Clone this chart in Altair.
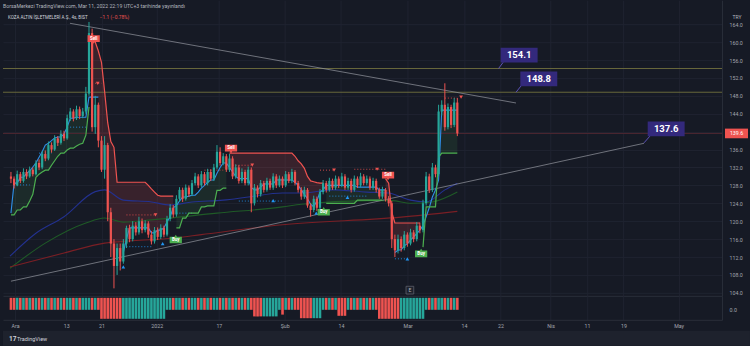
import json
import altair as alt
import pandas as pd

# ---------------- data ----------------
opens = [130.0,129.5,128.0,130.5,129.0,131.0,130.0,131.5,130.5,133.0,
         132.0,135.0,134.0,137.0,136.0,138.5,137.5,139.5,138.5,143.0,
         144.5,143.0,145.0,143.5,144.5,148.5,162.0,141.0,146.0,138.0,
         131.5,137.0,122.0,115.0,110.0,114.0,111.0,115.0,118.5,116.0,
         119.0,117.5,120.0,118.0,119.5,117.0,115.5,118.0,116.5,118.5,
         117.0,120.5,123.0,121.5,125.0,127.0,125.0,127.5,126.0,128.5,
         130.0,128.0,130.5,128.5,131.0,129.5,132.0,135.5,133.0,134.5,
         131.5,134.0,130.0,132.0,129.0,131.0,128.5,131.5,124.0,127.5,
         126.0,128.5,127.0,129.0,127.5,130.0,128.0,129.5,128.0,130.5,
         129.0,131.0,128.5,127.0,125.5,127.0,123.5,122.5,125.0,123.0,
         126.5,128.5,127.0,129.0,127.5,129.5,128.0,130.0,127.5,129.0,
         127.0,129.5,128.0,130.0,128.5,129.5,127.5,129.0,127.0,125.5,
         127.0,125.0,124.0,116.0,113.5,116.0,114.0,117.0,115.0,117.5,
         116.0,119.0,118.0,124.0,130.0,127.0,132.0,130.5,144.5,146.0,
         141.0,145.5,141.5,146.5]
closes = [129.5,128.0,130.5,129.0,131.0,130.0,131.5,130.5,133.0,132.0,
          135.0,134.0,137.0,136.0,138.5,137.5,139.5,138.5,143.0,144.5,
          143.0,145.0,143.5,144.5,148.5,162.0,141.0,146.0,138.0,131.5,
          137.0,122.0,115.0,110.0,114.0,111.0,115.0,118.5,116.0,119.0,
          117.5,120.0,118.0,119.5,117.0,115.5,118.0,116.5,118.5,117.0,
          120.5,123.0,121.5,125.0,127.0,125.0,127.5,126.0,128.5,130.0,
          128.0,130.5,128.5,131.0,129.5,132.0,135.5,133.0,134.5,131.5,
          134.0,130.0,132.0,129.0,131.0,128.5,131.5,124.0,127.5,126.0,
          128.5,127.0,129.0,127.5,130.0,128.0,129.5,128.0,130.5,129.0,
          131.0,128.5,127.0,125.5,127.0,123.5,122.5,125.0,123.0,126.5,
          128.5,127.0,129.0,127.5,129.5,128.0,130.0,127.5,129.0,127.0,
          129.5,128.0,130.0,128.5,129.5,127.5,129.0,127.0,125.5,127.0,
          125.0,124.0,116.0,113.5,116.0,114.0,117.0,115.0,117.5,116.0,
          119.0,118.0,124.0,130.0,127.0,132.0,130.5,144.5,146.0,141.0,
          145.5,141.5,146.5,139.6]
highs = [131.0,130.0,131.3,131.0,131.8,131.6,132.2,132.0,133.6,133.8,
         135.7,135.8,137.8,137.6,139.2,139.0,140.3,140.2,143.8,145.3,
         145.0,145.8,145.6,145.3,150.0,164.5,163.0,148.0,146.5,139.0,
         139.0,137.5,123.0,116.0,115.0,115.0,116.0,119.0,119.2,120.0,
         119.8,121.0,120.6,120.2,120.0,117.8,118.7,118.6,119.3,119.0,
         121.2,123.8,123.6,125.8,127.6,127.5,128.2,128.0,129.2,130.8,
         130.5,131.2,131.0,131.7,131.6,132.8,137.0,136.5,135.2,135.0,
         135.0,134.5,132.7,132.5,131.8,131.5,132.2,132.0,128.3,128.0,
         129.2,129.0,129.7,129.5,130.7,130.5,130.2,130.0,131.2,131.0,
         131.7,131.4,129.0,127.6,127.7,127.4,124.0,125.7,125.5,127.2,
         129.2,129.0,129.7,129.5,130.2,130.0,130.8,130.5,129.7,129.5,
         130.2,130.0,130.8,130.5,130.2,130.0,129.7,129.5,127.5,127.7,
         127.4,125.6,124.5,117.0,117.0,116.6,117.8,117.5,118.3,118.0,
         119.8,119.7,124.8,131.0,130.6,133.0,132.6,146.0,147.0,150.8,
         146.3,146.0,147.5,147.5]
lows = [128.5,127.3,127.8,128.5,128.6,129.4,129.7,130.0,130.2,131.4,
        131.6,133.4,133.6,135.3,135.7,136.8,137.1,137.9,138.2,142.4,
        142.3,142.6,142.8,143.0,144.0,148.0,140.0,139.5,136.5,131.0,
        129.5,120.0,112.0,105.0,108.0,109.0,110.5,114.0,115.3,115.5,
        116.8,117.0,117.3,117.5,116.3,114.8,115.0,115.8,116.0,116.4,
        116.6,120.0,120.8,121.0,124.4,124.3,124.6,125.4,125.6,128.0,
        127.4,127.6,128.0,128.0,129.0,129.0,131.6,132.4,132.5,131.0,
        131.0,129.4,129.5,128.4,128.5,128.0,128.0,122.0,123.5,125.3,
        125.5,126.4,126.6,127.0,127.0,127.4,127.6,127.4,127.6,128.5,
        128.5,128.0,126.4,124.8,125.0,123.0,121.0,122.0,122.3,122.6,
        126.0,126.4,126.6,127.0,127.0,127.4,127.6,127.0,127.0,126.4,
        126.6,127.4,127.6,128.0,128.0,127.0,127.0,126.4,125.0,125.0,
        124.4,123.3,114.0,112.0,112.8,113.2,113.5,114.3,114.6,115.3,
        115.5,117.3,117.5,123.5,126.3,126.5,129.8,130.0,143.6,140.2,
        140.5,140.8,141.0,139.0]

# trailing bands (sell = red upper band, buy = green lower band)
sell_starts = [26, 70, 120]
sell_vals = [
    [161.5,160.0,158.0,155.5,149.0,142.0,137.8,136.5,128.7,128.7,128.7,128.7,128.7,
     128.7,128.7,128.7,128.7,128.7,128.0,127.2,126.5,125.8,125.6,125.6,125.6,125.6,125.6],
    [135.2,135.2,135.2,135.2,135.2,135.2,135.2,135.2,135.2,135.2,135.2,135.2,135.2,135.2,
     135.2,135.2,135.2,135.2,135.2,135.2,135.2,134.5,133.5,132.8,131.8,130.0,129.0,128.8,
     128.6,128.5,128.5],
    [129.5,128.5,122.0,119.6,119.6,119.6,119.6,119.6,119.6,119.6,119.6,119.6],
]
buy_starts = [0, 53, 101, 132]
buy_vals = [
    [121.4,121.4,122.5,122.5,123.2,123.2,124.5,126.0,129.8,130.5,131.0,131.4,131.4,
     132.5,133.5,134.5,135.2,135.2,135.9,136.3,136.3,136.8,137.2,137.4,139.2,145.5],
    [118.5,118.5,120.7,120.7,121.8,121.8,121.8,121.8,123.2,123.2,123.4,123.4,123.4,
     126.9,126.9,127.4,127.4],
    [124.0,124.0,124.0,124.0,124.0,124.0,124.0,124.0,124.0,124.0,
     124.7,124.7,124.7,124.7,124.7,124.7,124.7,124.7,124.7],
    [114.2,123.2,123.2,123.2,123.2,134.3,135.2,135.2,135.2,135.2,135.2,135.2],
]
# light-blue trailing line
blue_starts = [0, 36, 123]
blue_vals = [
    [121.8,128.5,128.5,129.8,129.8,130.7,131.2,132.1,133.0,134.3,135.5,137.0,137.4,138.0,
     138.6,138.8,138.8,139.5,141.0,143.0,143.0,143.2,143.2,143.2,143.2,147.7,147.7,147.7,147.7],
    [113.0,116.0,118.5,118.5,118.5,118.5,118.5,118.5,118.5,117.4,117.4,118.0,118.0,118.5,
     119.8,121.0,123.0,123.5,124.5,125.4,125.4,125.6,125.8,125.8,126.5,127.4,128.0,128.7,
     129.2,129.2,130.7,132.0,133.0,133.0,132.0,131.0,130.0,129.5,129.5,129.5,129.5,127.5,
     127.0,127.0,127.6,128.3,128.3,128.3,128.3,129.2,129.2,129.2,129.2,129.2,129.2,128.7,
     128.0,127.0,126.0,125.0,123.8,123.2,124.5,126.5,127.0,128.0,128.0,128.0,128.0,128.0,
     128.0,128.0,128.0,128.0,128.0,127.6,127.6,127.6,127.6,127.6,127.6,127.6,127.0,127.0,127.0],
    [113.0,113.5,113.6,114.5,115.0,115.8,116.5,117.2,118.0,119.0,121.0,123.0,125.4,127.0,
     129.2,144.8,144.8,144.8,144.8,144.8,144.8],
]
# slow moving averages (bar index, price)
ma_navy_i = [-0.3,8,17,27,30,36,45,51,58,68,76,87,93,103,114,121,125,128,133,139,143]
ma_navy_v = [112.2,117.3,121.0,126.6,127.0,124.7,124.3,123.6,124.3,124.7,125.4,126.3,126.3,
             127.0,126.5,126.3,125.4,124.7,124.3,127.0,128.5]
ma_green_i = [-0.3,11,24,30,36,45,66,87,93,114,122,128,135,143]
ma_green_v = [109.5,115.1,119.6,120.7,119.8,120.3,121.8,123.2,123.8,124.6,124.6,124.0,124.3,126.5]
ma_red_i = [-0.3,17,30,53,61,87,125,143]
ma_red_v = [109.8,112.9,115.1,116.3,117.0,119.2,120.9,122.2]

# drawings
trend_i0 = [18.9, 0.0]
trend_p0 = [164.2, 106.6]
trend_i1 = [161.8, 202.8]
trend_p1 = [146.4, 137.4]
levels = [154.1, 148.8]
last_price = 139.6
box_i = [162.8, 169.1, 209.9]
box_p = [157.1, 151.8, 140.6]
box_t = ["154.1", "148.8", "137.6"]
ptr_i0 = [156.2, 161.8, 202.8]
ptr_p0 = [154.1, 148.8, 137.5]
ptr_i1 = [157.7, 163.4, 204.7]
ptr_p1 = [155.5, 150.2, 139.0]

sig_i = [26.5, 52.8, 70.5, 100.2, 120.8, 131.4]
sig_p = [160.8, 115.8, 136.3, 122.0, 130.3, 112.7]
sig_t = ["Sell", "Buy", "Sell", "Buy", "Sell", "Buy"]

tri_up_i = [36.0, 48.6, 84.0, 97.8, 107.8, 127.0]
tri_up_p = [109.8, 115.0, 124.6, 121.8, 125.3, 111.6]
tri_dn_i = [27.8, 46.3, 77.3, 103.5, 117.3, 144.2]
tri_dn_p = [150.8, 121.4, 132.5, 131.4, 131.6, 147.7]

dot_i0 = [1, 9, 18, 36, 53, 73, 102, 123, 139, 27, 37, 62, 71, 99, 110, 139]
dot_i1 = [6, 13, 24, 45, 58, 87, 114, 127, 143, 29, 46, 68, 77, 103, 120, 143]
dot_p = [128.1, 135.2, 141.0, 114.3, 121.8, 124.5, 125.6, 111.6, 141.9,
         150.8, 121.4, 131.4, 132.5, 131.4, 131.6, 147.5]
dot_c = ["b", "b", "b", "b", "b", "b", "b", "b", "b", "r", "r", "r", "r", "r", "r", "r"]

# lower pane histogram: blocks of deep bars
blk_start = [29, 36, 78, 81, 87, 93, 97, 105, 118, 125]
blk_end = [35, 49, 80, 85, 87, 96, 99, 107, 124, 132]
blk_val = [-0.75, -0.75, -0.55, -0.55, -0.4, -0.7, -0.7, -0.5, -0.75, -0.75]
blk_dir = ["down", "up", "down", "up", "down", "down", "up", "down", "down", "up"]

tick_pos = [1.3, 17.7, 29.0, 46.7, 66.6, 87.7, 105.7, 127.1, 145.1, 156.8, 172.9, 184.5, 196.2, 213.9]
tick_lab = ["Ara", "13", "21", "2022", "17", "Şub", "14", "Mar", "14", "22", "Nis", "11", "19", "May"]
price_ticks = [104, 108, 112, 116, 120, 124, 128, 132, 136, 140, 144, 148, 152, 156, 160, 164]

# ---------------- styling ----------------
BG = "#161a25"
GRID = "#1f2330"
LINE = "#2a2e39"
TXT = "#a3a6af"
UP, DOWN = "#26a69a", "#ef5350"
FONT = "Roboto"

n = len(closes)
bars = pd.DataFrame({"i": list(range(n)), "open": opens, "close": closes,
                     "high": highs, "low": lows})
bars["dir"] = ["up" if c >= o else "down" for o, c in zip(opens, closes)]

blue_map = {}
rows_blue = []
for s_id, (s, vals) in enumerate(zip(blue_starts, blue_vals)):
    for k, v in enumerate(vals):
        blue_map[s + k] = v
        rows_blue.append({"i": s + k, "v": v, "seg": s_id})
blue_df = pd.DataFrame(rows_blue)


def band_df(starts, vals, tag):
    rows = []
    for s_id, (s, vv) in enumerate(zip(starts, vals)):
        for k, v in enumerate(vv):
            i = s + k
            rows.append({"i": i, "band": v, "ref": blue_map.get(i, closes[i]), "seg": f"{tag}{s_id}"})
    return pd.DataFrame(rows)


red_df = band_df(sell_starts, sell_vals, "r")
green_df = band_df(buy_starts, buy_vals, "g")

xs = alt.Scale(domain=[-0.95, 226.2], nice=False, zero=False)
ys = alt.Scale(domain=[103.33, 169.35], nice=False, zero=False)
x_axis = alt.Axis(values=tick_pos, labels=False, ticks=False, domain=True, domainColor=LINE,
                  grid=True, gridColor=GRID, title=None)
y_axis = alt.Axis(orient="right", values=price_ticks, format=".1f", labelFontSize=5.3,
                  labelColor=TXT, labelFont=FONT, labelPadding=7, ticks=False, tickSize=0,
                  domain=True, domainColor=LINE, grid=True, gridColor=GRID, title=None,
                  labelAlign="left")


def X(f):
    return alt.X(f, type="quantitative", scale=xs, axis=x_axis)


def X2(f):
    return alt.X2(f)


def Y(f):
    return alt.Y(f, type="quantitative", scale=ys, axis=y_axis)


layers = []

# fills
layers.append(alt.Chart(red_df).mark_area(color=DOWN, opacity=0.16, interpolate="linear")
              .encode(x=X("i"), y=Y("band"), y2=alt.Y2("ref"), detail="seg:N"))
layers.append(alt.Chart(green_df).mark_area(color="#4caf50", opacity=0.12, interpolate="linear")
              .encode(x=X("i"), y=Y("band"), y2=alt.Y2("ref"), detail="seg:N"))

# moving averages (fixed colours per layer)
for mi, mv, col in [(ma_navy_i, ma_navy_v, "#23318f"),
                    (ma_green_i, ma_green_v, "#1f5a27"),
                    (ma_red_i, ma_red_v, "#7a1f25")]:
    layers.append(alt.Chart(pd.DataFrame({"i": mi, "v": mv}))
                  .mark_line(strokeWidth=1.1, interpolate="monotone", color=col)
                  .encode(x=X("i"), y=Y("v")))

# horizontal levels and last price line
layers.append(alt.Chart(pd.DataFrame({"p": levels})).mark_rule(color="#67663b", strokeWidth=1)
              .encode(y=Y("p")))
layers.append(alt.Chart(pd.DataFrame({"p": [last_price]})).mark_rule(color="#4e2630", strokeWidth=1)
              .encode(y=Y("p")))

# trend lines
trend_df = pd.DataFrame({"i0": trend_i0, "p0": trend_p0, "i1": trend_i1, "p1": trend_p1})
layers.append(alt.Chart(trend_df).mark_rule(color="#9598a1", strokeWidth=1, opacity=0.7)
              .encode(x=X("i0"), y=Y("p0"), x2=X2("i1"), y2=alt.Y2("p1")))

# dotted support/resistance segments
dot_df = pd.DataFrame({"i0": dot_i0, "i1": dot_i1, "p": dot_p, "c": dot_c})
for code, col in [("b", "#2196f3"), ("r", "#ef5350")]:
    layers.append(alt.Chart(dot_df).transform_filter(f"datum.c == '{code}'")
                  .mark_rule(strokeWidth=1, strokeDash=[1, 2], color=col, opacity=0.85)
                  .encode(x=X("i0"), x2=X2("i1"), y=Y("p")))

# bands and blue line
layers.append(alt.Chart(blue_df).mark_line(color="#2f8fe8", strokeWidth=1.1)
              .encode(x=X("i"), y=Y("v"), detail="seg:N"))
layers.append(alt.Chart(red_df).mark_line(color=DOWN, strokeWidth=1.2)
              .encode(x=X("i"), y=Y("band"), detail="seg:N"))
layers.append(alt.Chart(green_df).mark_line(color="#4caf50", strokeWidth=1.2)
              .encode(x=X("i"), y=Y("band"), detail="seg:N"))

# candles
for d, col in [("up", UP), ("down", DOWN)]:
    layers.append(alt.Chart(bars).transform_filter(f"datum.dir == '{d}'")
                  .mark_rule(strokeWidth=1, color=col)
                  .encode(x=X("i"), y=Y("low"), y2=alt.Y2("high")))
    layers.append(alt.Chart(bars).transform_filter(f"datum.dir == '{d}'")
                  .mark_bar(size=2.2, color=col)
                  .encode(x=X("i"), y=Y("open"), y2=alt.Y2("close")))

# small triangles
layers.append(alt.Chart(pd.DataFrame({"i": tri_up_i, "p": tri_up_p}))
              .mark_point(shape="triangle-up", filled=True, size=14, color="#2196f3", opacity=1)
              .encode(x=X("i"), y=Y("p")))
layers.append(alt.Chart(pd.DataFrame({"i": tri_dn_i, "p": tri_dn_p}))
              .mark_point(shape="triangle-down", filled=True, size=14, color="#ef5350", opacity=1)
              .encode(x=X("i"), y=Y("p")))

# Buy / Sell labels
SELL_SHAPE = "M-1,-0.55L1,-0.55L1,0.55L0.2,0.55L0,0.85L-0.2,0.55L-1,0.55Z"
BUY_SHAPE = "M-1,0.55L1,0.55L1,-0.55L0.2,-0.55L0,-0.85L-0.2,-0.55L-1,-0.55Z"
sig_df = pd.DataFrame({"i": sig_i, "p": sig_p, "t": sig_t})
layers.append(alt.Chart(sig_df).transform_filter("datum.t == 'Sell'")
              .mark_point(shape=SELL_SHAPE, filled=True, size=150, color="#ef5350", opacity=1)
              .encode(x=X("i"), y=Y("p")))
layers.append(alt.Chart(sig_df).transform_filter("datum.t == 'Buy'")
              .mark_point(shape=BUY_SHAPE, filled=True, size=150, color="#4caf50", opacity=1)
              .encode(x=X("i"), y=Y("p")))
layers.append(alt.Chart(sig_df).mark_text(color="white", fontSize=4.5, fontWeight="bold", font=FONT)
              .encode(x=X("i"), y=Y("p"), text="t:N"))

# level callouts
ptr_df = pd.DataFrame({"i0": ptr_i0, "p0": ptr_p0, "i1": ptr_i1, "p1": ptr_p1})
layers.append(alt.Chart(ptr_df).mark_rule(color="#5b50b8", strokeWidth=1)
              .encode(x=X("i0"), y=Y("p0"), x2=X2("i1"), y2=alt.Y2("p1")))
BOX = "M-1,-0.4L1,-0.4L1,0.4L-1,0.4Z"
box_df = pd.DataFrame({"i": box_i, "p": box_p, "t": box_t})
layers.append(alt.Chart(box_df).mark_point(shape=BOX, filled=True, size=1369, color="#33297c", opacity=1)
              .encode(x=X("i"), y=Y("p")))
layers.append(alt.Chart(box_df).mark_text(color="white", fontSize=9.5, fontWeight="bold", font=FONT)
              .encode(x=X("i"), y=Y("p"), text="t:N"))

# last price tag on the axis
PTAG = "M-1,-0.42L1,-0.42L1,0.42L-1,0.42Z"
lp_df = pd.DataFrame({"p": [last_price], "t": ["139.6"]})
layers.append(alt.Chart(lp_df).mark_point(shape=PTAG, filled=True, size=530, color="#ef5350", opacity=1)
              .encode(x=alt.value(734.5), y=Y("p")))
layers.append(alt.Chart(lp_df).mark_text(color="white", fontSize=5.3, font=FONT)
              .encode(x=alt.value(734.5), y=Y("p"), text="t:N"))

# "E" event marker
e_df = pd.DataFrame({"i": [127.8], "p": [104.6], "t": ["E"]})
layers.append(alt.Chart(e_df).mark_point(shape="square", filled=True, size=60, color="#1e222d",
                                         stroke="#5d606b", strokeWidth=0.8, opacity=1)
              .encode(x=X("i"), y=Y("p")))
layers.append(alt.Chart(e_df).mark_text(color="#b2b5be", fontSize=5, font=FONT)
              .encode(x=X("i"), y=Y("p"), text="t:N"))

# header texts
hdr1 = pd.DataFrame({"t": ["BorsaMerkezi TradingView.com, Mar 11, 2022 22:19 UTC+3 tarihinde yayınlandı"]})
layers.append(alt.Chart(hdr1).mark_text(align="left", baseline="middle", fontSize=5.2, color="#b2b5be", font=FONT)
              .encode(x=alt.value(0), y=alt.value(6), text="t:N"))
hdr2 = pd.DataFrame({"t": ["KOZA ALTIN İŞLETMELERİ A.Ş., 4s, BIST"]})
layers.append(alt.Chart(hdr2).mark_text(align="left", baseline="middle", fontSize=4.5, color="#d1d4dc", font=FONT)
              .encode(x=alt.value(5), y=alt.value(18), text="t:N"))
hdr3 = pd.DataFrame({"t": ["−1.1 (−0.78%)"]})
layers.append(alt.Chart(hdr3).mark_text(align="left", baseline="middle", fontSize=4.8, color="#ef5350", font=FONT)
              .encode(x=alt.value(97), y=alt.value(18), text="t:N"))
cur = pd.DataFrame({"t": ["TRY"]})
layers.append(alt.Chart(cur).mark_text(align="center", baseline="middle", fontSize=5, color="#b2b5be", font=FONT)
              .encode(x=alt.value(735), y=alt.value(17), text="t:N"))

main = alt.layer(*layers).properties(width=720, height=296)

# ---------------- lower pane ----------------
hist_val = {i: 0.0 for i in range(n)}
hist_dir = {i: bars["dir"][i] for i in range(n)}
for s, e, v, d in zip(blk_start, blk_end, blk_val, blk_dir):
    for i in range(s, e + 1):
        hist_val[i] = v
        hist_dir[i] = d
hist_df = pd.DataFrame({"i": list(range(n)), "v": [hist_val[i] for i in range(n)],
                        "dir": [hist_dir[i] for i in range(n)]})

lab_expr = f"{json.dumps(tick_lab, ensure_ascii=False)}[indexof({json.dumps(tick_pos)}, datum.value)]"
xl_axis = alt.Axis(values=tick_pos, labelExpr=lab_expr, labelFontSize=5.3, labelColor=TXT, labelFont=FONT,
                   labelPadding=4, ticks=False, tickSize=0, domain=True, domainColor=LINE, grid=True,
                   gridColor=GRID, title=None, labelOverlap=False, labelFlush=False)
yl_axis = alt.Axis(orient="right", values=[0], format=".1f", labelFontSize=5.3, labelColor=TXT, labelFont=FONT,
                   labelPadding=7, ticks=False, tickSize=0, domain=True, domainColor=LINE, grid=False,
                   title=None, labelAlign="left")
yl_scale = alt.Scale(domain=[-0.8333, 1.1667], nice=False, zero=False)

strip = alt.Chart(pd.DataFrame({"t": ["TradingView"]})).mark_rect(color="#1e222d").encode(
    x=alt.value(0), x2=alt.value(748), y=alt.value(35), y2=alt.value(50))
low_layers = [strip]
for d, col in [("up", UP), ("down", DOWN)]:
    low_layers.append(alt.Chart(hist_df).transform_filter(f"datum.dir == '{d}'")
                      .mark_bar(size=2.6, color=col).encode(
        x=alt.X("i:Q", scale=xs, axis=xl_axis),
        y=alt.Y("v:Q", scale=yl_scale, axis=yl_axis),
        y2=alt.datum(1.0)))
logo = alt.Chart(pd.DataFrame({"t": ["17"]})).mark_text(align="left", baseline="middle", fontSize=6.5,
                                                         fontWeight="bold", color="#d1d4dc", font=FONT).encode(
    x=alt.value(6), y=alt.value(43), text="t:N")
brand = alt.Chart(pd.DataFrame({"t": ["TradingView"]})).mark_text(align="left", baseline="middle", fontSize=5.5,
                                                                  color="#d1d4dc", font=FONT).encode(
    x=alt.value(14), y=alt.value(43), text="t:N")
low_layers += [logo, brand]

lower = alt.layer(*low_layers).properties(width=720, height=24)

chart = alt.vconcat(main, lower, spacing=0, bounds="flush").properties(
    background=BG,
    padding={"left": 2, "top": 0, "right": 0, "bottom": 0},
).configure_view(stroke=None)

chart.save("out.html", embed_options={"renderer": "svg", "actions": False})
